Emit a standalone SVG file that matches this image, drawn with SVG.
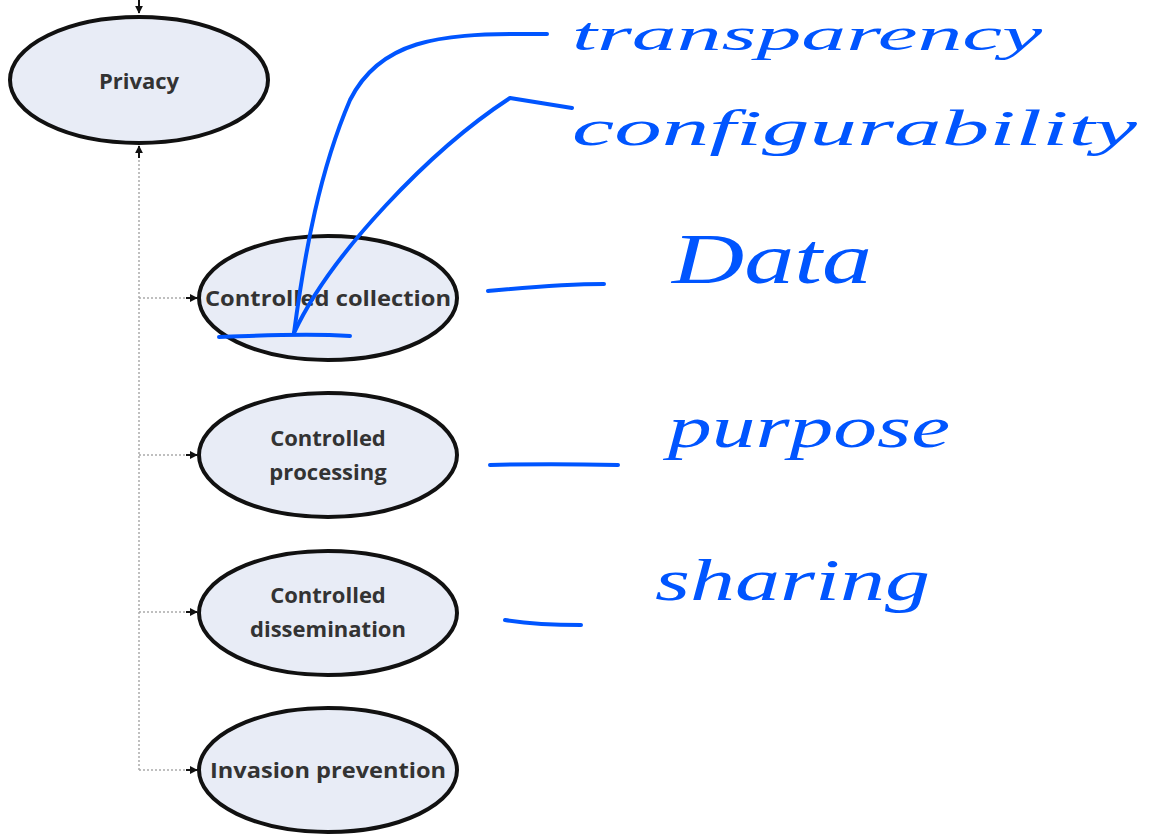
<svg xmlns="http://www.w3.org/2000/svg" width="1151" height="834" viewBox="0 0 1151 834">
<style>
.node{fill:#e8ecf6;stroke:#111;stroke-width:4}
.lbl{font-family:"Open Sans","Liberation Sans",sans-serif;font-weight:bold;font-size:22px;fill:#333;text-anchor:middle}
.dot{fill:none;stroke:#aaa;stroke-width:1.5;stroke-dasharray:2 2}
.ah{stroke:#111;stroke-width:2}
.ink{fill:none;stroke:#0055ff;stroke-width:4;stroke-linecap:round;stroke-linejoin:round}
.hand{font-family:"Liberation Serif",serif;font-style:italic;fill:#0055ff}
</style>
<defs>
<marker id="ah" viewBox="0 0 10 10" refX="9" refY="5" markerWidth="4" markerHeight="4" orient="auto" markerUnits="strokeWidth">
<path d="M0,0 L10,5 L0,10 z" fill="#111"/>
</marker>
</defs>
<rect width="1151" height="834" fill="#fff"/>
<g id="connectors">
<path class="ah" d="M139,0 L139,13" marker-end="url(#ah)"/>
<path class="dot" d="M139,770 L139,152"/>
<path class="ah" d="M139,158 L139,146" marker-end="url(#ah)"/>
<path class="dot" d="M139,298 L190,298"/>
<path class="dot" d="M139,455 L190,455"/>
<path class="dot" d="M139,612 L190,612"/>
<path class="dot" d="M139,770 L190,770"/>
<path class="ah" d="M186,298 L197,298" marker-end="url(#ah)"/>
<path class="ah" d="M186,455 L197,455" marker-end="url(#ah)"/>
<path class="ah" d="M186,612 L197,612" marker-end="url(#ah)"/>
<path class="ah" d="M186,770 L197,770" marker-end="url(#ah)"/>
</g>
<g id="privacy"><ellipse class="node" cx="139" cy="80" rx="129" ry="63"/><text class="lbl" x="139" y="89">Privacy</text></g>
<g id="collection"><ellipse class="node" cx="328" cy="298" rx="129" ry="62"/><text class="lbl" x="328" y="306" textLength="246" lengthAdjust="spacingAndGlyphs">Controlled collection</text></g>
<g id="processing"><ellipse class="node" cx="328" cy="455" rx="129" ry="62"/><text class="lbl" x="328" y="446">Controlled</text><text class="lbl" x="328" y="480">processing</text></g>
<g id="dissemination"><ellipse class="node" cx="328" cy="613" rx="129" ry="62"/><text class="lbl" x="328" y="603">Controlled</text><text class="lbl" x="328" y="637">dissemination</text></g>
<g id="invasion"><ellipse class="node" cx="328" cy="770" rx="129" ry="62"/><text class="lbl" x="328" y="778" textLength="236" lengthAdjust="spacingAndGlyphs">Invasion prevention</text></g>
<g id="annotations">
<path class="ink" d="M547,34 L522,34 C440,34 380,40 350,100 C320,170 305,250 294,333"/>
<path class="ink" d="M572,108 L510,98 C430,150 330,255 294,333"/>
<path class="ink" d="M219,337 C260,336 300,333 350,336"/>
<path class="ink" d="M488,291 C520,288 560,284 604,284"/>
<path class="ink" d="M490,465 C530,464 570,464 618,465"/>
<path class="ink" d="M505,620 C530,624 555,625 581,625"/>
<text class="hand" x="572" y="50" font-size="46" textLength="470" lengthAdjust="spacingAndGlyphs">transparency</text>
<text class="hand" x="572" y="145" font-size="50" textLength="565" lengthAdjust="spacingAndGlyphs">configurability</text>
<text class="hand" x="672" y="283" font-size="72" textLength="200" lengthAdjust="spacingAndGlyphs">Data</text>
<text class="hand" x="668" y="447" font-size="60" textLength="282" lengthAdjust="spacingAndGlyphs">purpose</text>
<text class="hand" x="655" y="600" font-size="60" textLength="275" lengthAdjust="spacingAndGlyphs">sharing</text>
</g>
</svg>
